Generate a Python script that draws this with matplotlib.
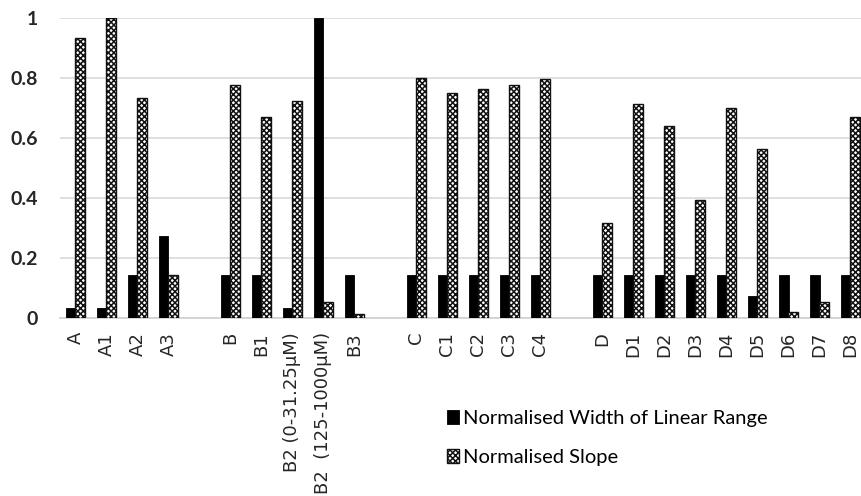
import matplotlib
matplotlib.use('Agg')
import matplotlib.pyplot as plt
import numpy as np

categories = ["A", "A1", "A2", "A3", "",
              "B", "B1", "B2 (0-31.25\u03bcM)", "B2  (125-1000\u03bcM)", "B3", "",
              "C", "C1", "C2", "C3", "C4", "",
              "D", "D1", "D2", "D3", "D4", "D5", "D6", "D7", "D8"]
width_range = [0.035, 0.035, 0.145, 0.272, np.nan,
               0.145, 0.145, 0.035, 1.0, 0.145, np.nan,
               0.145, 0.145, 0.145, 0.145, 0.145, np.nan,
               0.145, 0.145, 0.145, 0.145, 0.145, 0.075, 0.145, 0.145, 0.145]
slope = [0.935, 1.0, 0.734, 0.145, np.nan,
         0.776, 0.670, 0.724, 0.054, 0.015, np.nan,
         0.800, 0.749, 0.762, 0.776, 0.796, np.nan,
         0.316, 0.714, 0.639, 0.393, 0.699, 0.563, 0.020, 0.054, 0.670]

plt.rcParams['hatch.linewidth'] = 1.1

fig = plt.figure(figsize=(8.62, 4.96), dpi=100)
ax = fig.add_axes([60/862, (496-318)/496, 806/862, 300/496])

x = np.arange(len(categories))
bw = 0.3
ax.bar(x - bw/2, width_range, bw, color="black", edgecolor="black", linewidth=0.6,
       label="Normalised Width of Linear Range", zorder=3)
ax.bar(x + bw/2, slope, bw, color="white", edgecolor="#111111", hatch="xxxxxx", linewidth=1.0,
       label="Normalised Slope", zorder=3)

ax.set_xlim(-0.5, len(categories) - 0.5)
ax.set_ylim(0, 1)
ax.set_yticks([0, 0.2, 0.4, 0.6, 0.8, 1])
ax.set_yticklabels(["0", "0.2", "0.4", "0.6", "0.8", "1"], fontsize=14, family="Lato",
                   fontweight="bold", color="#262626")
ax.set_xticks(x)
ax.set_xticklabels(categories, rotation=90, fontsize=13, family="DejaVu Sans", color="#262626")
ax.tick_params(axis="both", length=0)
ax.tick_params(axis="y", pad=16)
ax.tick_params(axis="x", pad=10)
ax.grid(axis="y", color="#d9d9d9", linewidth=1.2, zorder=0)
for s in ["left", "right", "top"]:
    ax.spines[s].set_visible(False)
ax.spines["bottom"].set_color("#d0d0d0")
ax.spines["bottom"].set_linewidth(1.2)

fig.legend(loc="center left", bbox_to_anchor=(447/862, 1 - 438/496), frameon=False,
           prop={"family": "Lato", "size": 14.5}, handlelength=0.6, handleheight=0.7,
           handletextpad=0.2, labelspacing=1.1, borderpad=0, borderaxespad=0)

plt.savefig("out.png", dpi=100)
